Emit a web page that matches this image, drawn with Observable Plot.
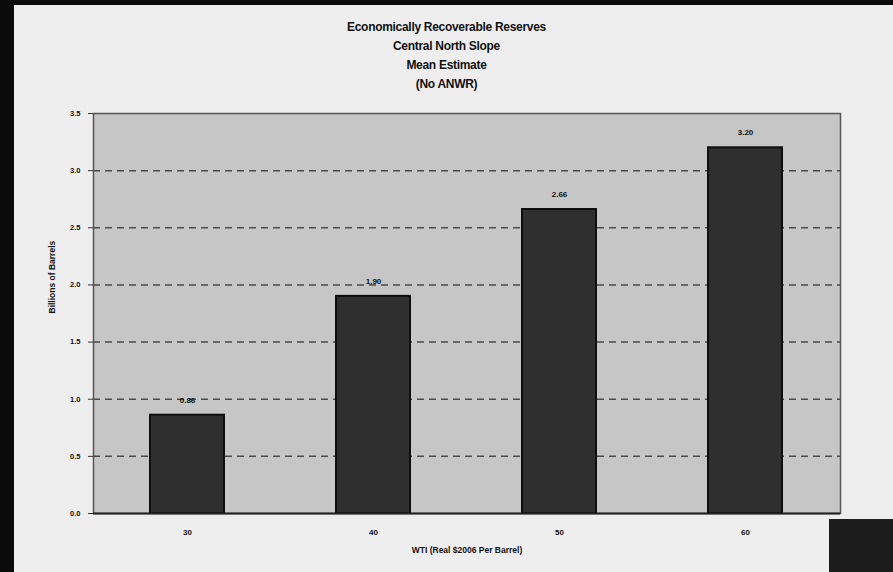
<!DOCTYPE html>
<html>
<head>
<meta charset="utf-8">
<script src="https://cdn.jsdelivr.net/npm/d3@7"></script>
<script src="https://cdn.jsdelivr.net/npm/@observablehq/plot@0.6"></script>
<style>
  html, body { margin: 0; padding: 0; background: #ededed; }
  #wrap { position: relative; width: 893px; height: 572px; overflow: hidden; background: #eeeeee; }
  #leftbar { position: absolute; left: 0; top: 0; width: 14px; height: 572px; background: #0b0b0b; }
  #topbar { position: absolute; left: 0; top: 0; width: 893px; height: 5px; background: #0b0b0b; }
  #logo { position: absolute; left: 829px; top: 519px; width: 64px; height: 53px; background: #1c1c1c; }
  #title { height: 100px; box-sizing: border-box; padding-top: 18px; text-align: center;
           font-family: "Liberation Sans", Arial, sans-serif; font-weight: bold; font-size: 12px;
           line-height: 19px; color: #111; letter-spacing: -0.3px; }
  svg { display: block; }
</style>
</head>
<body>
<div id="wrap">
  <div id="title">Economically Recoverable Reserves<br>Central North Slope<br>Mean Estimate<br>(No ANWR)</div>
  <div id="chart"></div>
  <div id="leftbar"></div>
  <div id="topbar"></div>
  <div id="logo"></div>
</div>
<script>
const prices = ["30", "40", "50", "60"];
const reserves = [0.86, 1.90, 2.66, 3.20];
const valueLabels = ["0.86", "1.90", "2.66", "3.20"];
const yTicks = [0, 0.5, 1.0, 1.5, 2.0, 2.5, 3.0, 3.5];
const gridTicks = [0.5, 1.0, 1.5, 2.0, 2.5, 3.0];
const yTitle = "Billions of Barrels";
const xTitle = "WTI (Real $2006 Per Barrel)";

const data = prices.map((p, i) => ({price: p, value: reserves[i], label: valueLabels[i]}));

const chart = Plot.plot({
  width: 893,
  height: 472,
  marginTop: 13,
  marginBottom: 59,
  marginLeft: 93,
  marginRight: 53,
  style: {background: "transparent", fontFamily: "Liberation Sans, Arial, sans-serif", fontWeight: "bold", color: "#111"},
  x: {domain: prices, paddingInner: 0.6, paddingOuter: 0.3, label: null},
  y: {domain: [0, 3.5], label: null},
  marks: [
    Plot.frame({fill: "#c6c6c6", stroke: "#555", strokeWidth: 1.5}),
    Plot.ruleY(gridTicks, {stroke: "#4a4a4a", strokeWidth: 1.5, strokeDasharray: "7,5"}),
    Plot.barY(data, {x: "price", y: "value", fill: "#2f2f2f", stroke: "#0e0e0e", strokeWidth: 2}),
    Plot.text(data, {x: "price", y: "value", text: "label", dy: -15, fontSize: 8, fontWeight: "bold", fill: "#111"}),
    Plot.ruleY([0], {stroke: "#222", strokeWidth: 2}),
    Plot.axisY({ticks: yTicks, tickFormat: ".1f", tickSize: 5, tickPadding: 8, fontSize: 7.5, label: null, stroke: "#333"}),
    Plot.axisX({tickSize: 0, tickPadding: 16, fontSize: 8, label: null}),
    Plot.text([yTitle], {frameAnchor: "left", dx: -41, rotate: -90, fontSize: 8.5, fontWeight: "bold", fill: "#111"}),
    Plot.text([xTitle], {frameAnchor: "bottom", dy: 39, fontSize: 8.5, fontWeight: "bold", fill: "#111"})
  ]
});
document.getElementById("chart").appendChild(chart);
</script>
</body>
</html>
